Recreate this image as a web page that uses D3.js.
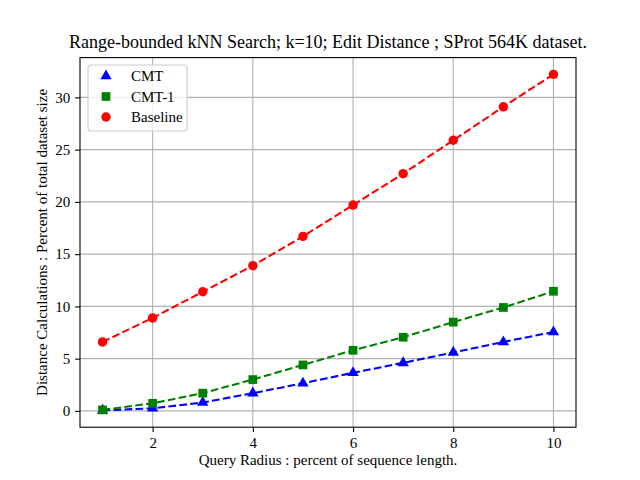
<!DOCTYPE html>
<html>
<head>
<meta charset="utf-8">
<script src="https://cdn.jsdelivr.net/npm/d3@7"></script>
<style>
  body { margin: 0; background: #fff; }
  text { font-family: "Liberation Serif", "DejaVu Serif", serif; fill: #000; }
</style>
</head>
<body>
<div id="chart"></div>
<script>
// Données
const radius = [1, 2, 3, 4, 5, 6, 7, 8, 9, 10];
const cmt = [0.05, 0.25, 0.8, 1.7, 2.65, 3.65, 4.6, 5.6, 6.6, 7.55];
const cmt1 = [0.1, 0.73, 1.7, 3.0, 4.4, 5.8, 7.05, 8.5, 9.9, 11.45];
const baseline = [6.6, 8.9, 11.4, 13.9, 16.7, 19.7, 22.7, 25.9, 29.1, 32.2];
const xTicks = [2, 4, 6, 8, 10];
const yTicks = [0, 5, 10, 15, 20, 25, 30];

const W = 640, H = 480;
const MARGIN = { top: 57.6, right: 64, bottom: 52.8, left: 80 };

const series = [
    { name: "CMT", values: cmt, color: "#0000ff", marker: d3.symbolTriangle, size: 56 },
    { name: "CMT-1", values: cmt1, color: "#008000", marker: d3.symbolSquare, size: 76 },
    { name: "Baseline", values: baseline, color: "#ff0000", marker: d3.symbolCircle, size: 70 }
];

const svg = d3.select("#chart").append("svg")
    .attr("width", W)
    .attr("height", H);

const x = d3.scaleLinear()
    .domain([0.55, 10.45])
    .range([MARGIN.left, W - MARGIN.right]);

const allY = cmt.concat(cmt1, baseline);
const yMin = d3.min(allY), yMax = d3.max(allY);
const pad = (yMax - yMin) * 0.05;
const y = d3.scaleLinear()
    .domain([yMin - pad, yMax + pad])
    .range([H - MARGIN.bottom, MARGIN.top]);

// Grille
const grid = svg.append("g").attr("stroke", "#b0b0b0").attr("stroke-width", 1.1);
grid.selectAll(".gx").data(xTicks).join("line")
    .attr("x1", d => x(d)).attr("x2", d => x(d))
    .attr("y1", MARGIN.top).attr("y2", H - MARGIN.bottom);
grid.selectAll(".gy").data(yTicks).join("line")
    .attr("y1", d => y(d)).attr("y2", d => y(d))
    .attr("x1", MARGIN.left).attr("x2", W - MARGIN.right);

// Axes
const xAxis = svg.append("g")
    .attr("transform", `translate(0,${H - MARGIN.bottom})`)
    .call(d3.axisBottom(x).tickValues(xTicks).tickSize(4.9).tickPadding(4.9).tickSizeOuter(0));
const yAxis = svg.append("g")
    .attr("transform", `translate(${MARGIN.left},0)`)
    .call(d3.axisLeft(y).tickValues(yTicks).tickSize(4.9).tickPadding(4.9).tickSizeOuter(0));
[xAxis, yAxis].forEach(a => {
    a.select(".domain").remove();
    a.selectAll("line").attr("stroke", "#000").attr("stroke-width", 1.1);
    a.selectAll("text").style("font-family", "'Liberation Serif', serif").style("font-size", "15px");
});

// Lignes et marqueurs
const line = d3.line().x((d, i) => x(radius[i])).y(d => y(d));
series.forEach(s => {
    svg.append("path")
        .datum(s.values)
        .attr("d", line)
        .attr("fill", "none")
        .attr("stroke", s.color)
        .attr("stroke-width", 2.08)
        .attr("stroke-dasharray", "7.7,3.3");
    svg.append("g").selectAll("path")
        .data(s.values)
        .join("path")
        .attr("transform", (d, i) => `translate(${x(radius[i])},${y(d)})`)
        .attr("d", d3.symbol().type(s.marker).size(s.size))
        .attr("fill", s.color);
});

// Cadre
svg.append("rect")
    .attr("x", MARGIN.left).attr("y", MARGIN.top)
    .attr("width", W - MARGIN.left - MARGIN.right)
    .attr("height", H - MARGIN.top - MARGIN.bottom)
    .attr("fill", "none").attr("stroke", "#000").attr("stroke-width", 1.1);

// Légende
const legend = svg.append("g").attr("transform", "translate(88,65)");
legend.append("rect")
    .attr("width", 99).attr("height", 66).attr("rx", 3)
    .attr("fill", "rgba(255,255,255,0.8)").attr("stroke", "#cccccc").attr("stroke-width", 1.1);
series.forEach((s, i) => {
    const cy = 11 + i * 20.5;
    legend.append("path")
        .attr("transform", `translate(18,${cy})`)
        .attr("d", d3.symbol().type(s.marker).size(s.size))
        .attr("fill", s.color);
    legend.append("text")
        .attr("x", 43).attr("y", cy + 5)
        .style("font-size", "15px")
        .text(s.name);
});

// Titres
svg.append("text")
    .attr("x", (MARGIN.left + W - MARGIN.right) / 2)
    .attr("y", 48)
    .attr("text-anchor", "middle")
    .style("font-size", "18px")
    .text("Range-bounded kNN Search; k=10; Edit Distance ; SProt 564K dataset.");

svg.append("text")
    .attr("x", (MARGIN.left + W - MARGIN.right) / 2)
    .attr("y", 465)
    .attr("text-anchor", "middle")
    .style("font-size", "15px")
    .text("Query Radius : percent of sequence length.");

svg.append("text")
    .attr("transform", `translate(47,${(MARGIN.top + H - MARGIN.bottom) / 2}) rotate(-90)`)
    .attr("text-anchor", "middle")
    .style("font-size", "15px")
    .text("Distance Calculations : Percent of total dataset size");
</script>
</body>
</html>
